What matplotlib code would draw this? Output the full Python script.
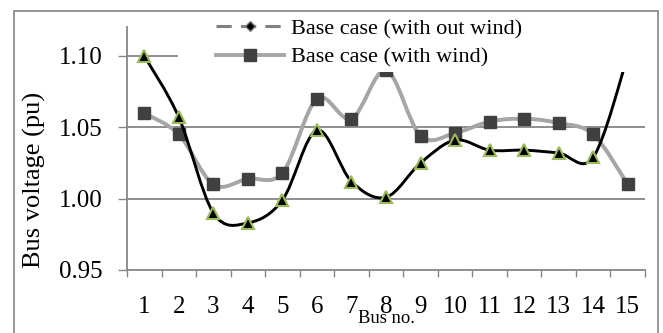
import matplotlib
matplotlib.use('Agg')
import matplotlib.pyplot as plt
from matplotlib.path import Path
from matplotlib.patches import PathPatch, Rectangle
from matplotlib.lines import Line2D

plt.rcParams['font.family'] = ['Liberation Serif', 'DejaVu Serif']

# data
buses = list(range(1, 16))
v_no_wind = [1.060, 1.045, 1.010, 1.014, 1.018, 1.070, 1.056, 1.090,
             1.044, 1.046, 1.054, 1.056, 1.053, 1.045, 1.010]
v_wind = [1.060, 1.045, 1.010, 1.014, 1.018, 1.070, 1.056, 1.090,
          1.044, 1.046, 1.054, 1.056, 1.053, 1.045, 1.010]
v_third = [1.100, 1.057, 0.990, 0.983, 0.999, 1.048, 1.012, 1.001,
           1.025, 1.041, 1.034, 1.034, 1.032, 1.029, 1.100]
y_ticks = [0.95, 1.00, 1.05, 1.10]
labels = ['Base case (with out wind)', 'Base case (with wind)']


def smooth_path(xs, ys):
    # excel-like smoothed line: bezier segments with catmull-rom control points
    n = len(xs)
    verts = [(xs[0], ys[0])]
    codes = [Path.MOVETO]
    for i in range(n - 1):
        p0 = max(i - 1, 0)
        p3 = min(i + 2, n - 1)
        c1 = (xs[i] + (xs[i + 1] - xs[p0]) / 6, ys[i] + (ys[i + 1] - ys[p0]) / 6)
        c2 = (xs[i + 1] - (xs[p3] - xs[i]) / 6, ys[i + 1] - (ys[p3] - ys[i]) / 6)
        verts += [c1, c2, (xs[i + 1], ys[i + 1])]
        codes += [Path.CURVE4] * 3
    return Path(verts, codes)


fig = plt.figure(figsize=(6.63, 3.33), dpi=100)
ax = fig.add_axes([0.1916, 0.1892, 0.7813, 0.7297])

grid_c = '#868686'
ax.set_xlim(0.5, 15.5)
ax.set_ylim(0.95, 1.1203)
for yv in y_ticks[1:]:
    ax.axhline(yv, color=grid_c, lw=1.3, zorder=1)

# without wind: dashed gray, small diamonds
ax.add_patch(PathPatch(smooth_path(buses, v_no_wind), fill=False, edgecolor='#808080',
                       lw=2.2, linestyle=(0, (5, 3)), zorder=2))
ax.plot(buses, v_no_wind, ls='none', marker='D', ms=5, mfc='black', mec='#808080',
        mew=1, zorder=2)

# with wind: light gray solid, dark squares
ax.add_patch(PathPatch(smooth_path(buses, v_wind), fill=False, edgecolor='#A6A6A6',
                       lw=2.8, zorder=2.1))
ax.plot(buses, v_wind, ls='none', marker='s', ms=8.5, mfc='#404040', mec='#404040',
        zorder=2.1)

# third series: black smooth line, black triangles with green edge
ax.add_patch(PathPatch(smooth_path(buses, v_third), fill=False, edgecolor='black',
                       lw=2.1, zorder=2.5))
ax.plot(buses, v_third, ls='none', marker='^', ms=8.5, mfc='black', mec='#9BBB59',
        mew=1.5, zorder=2.6)

# white legend area covering the top of the plot
ax.add_patch(Rectangle((178 / 663, 1 - 72 / 333), 480 / 663, 62 / 333, transform=fig.transFigure,
                       facecolor='white', edgecolor='none', zorder=3, clip_on=False))

handles = [
    Line2D([], [], color='#808080', lw=2.2, ls=(0, (5, 3)), marker='D', ms=5,
           mfc='black', mec='#808080'),
    Line2D([], [], color='#A6A6A6', lw=2.8, marker='s', ms=8.5, mfc='#404040', mec='#404040'),
]
ax.legend(handles, labels, loc='upper left', bbox_to_anchor=(200 / 663, 1 - 3 / 333),
          bbox_transform=fig.transFigure, frameon=False, fontsize=16,
          handlelength=3.1, handletextpad=0.3, labelspacing=0.35, borderpad=0.2)

for s in ['top', 'right']:
    ax.spines[s].set_visible(False)
for s in ['left', 'bottom']:
    ax.spines[s].set_color(grid_c)
    ax.spines[s].set_linewidth(1.3)

ax.set_yticks(y_ticks)
ax.set_yticklabels(['%.2f' % v for v in y_ticks])
ax.tick_params(axis='y', direction='out', length=6.5, width=1.0, color=grid_c,
               labelsize=18, pad=11)

ax.set_xticks([b - 0.5 for b in buses] + [15.5])
ax.set_xticklabels([])
ax.tick_params(axis='x', which='major', direction='out', length=5, width=1.0, color=grid_c)
ax.set_xticks(buses, minor=True)
ax.set_xticklabels([str(b) for b in buses], minor=True)
ax.tick_params(axis='x', which='minor', length=0, labelsize=18, pad=19)

ax.set_xlabel('Bus no.', fontsize=13.4, va='center')
ax.xaxis.set_label_coords(0.5, -0.2)
ax.set_ylabel('Bus voltage (pu)', fontsize=19, va='center')
ax.yaxis.set_label_coords(-0.178, 0.37)

# outer chart border
fig.patches.append(Rectangle((14 / 663, -0.05), 644 / 663, 1.05 - 11 / 333,
                             transform=fig.transFigure, fill=False,
                             edgecolor='#8C8C8C', lw=1.3, zorder=0))

fig.savefig('out.png', dpi=100)
